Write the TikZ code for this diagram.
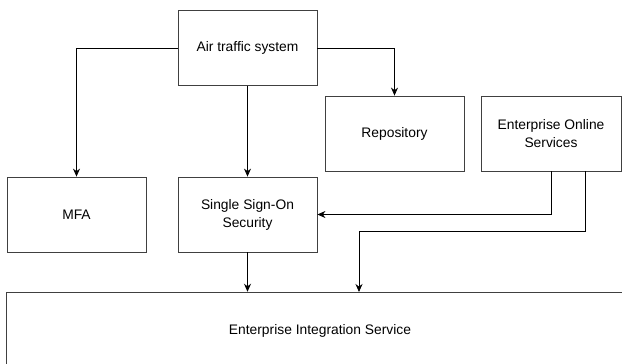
\documentclass[tikz,border=0pt]{standalone}
\usepackage{fontspec}
\setmainfont{Liberation Sans}
\usetikzlibrary{arrows.meta,
                positioning}

\begin{document}
\begin{tikzpicture}[x=0.03cm, y=-0.03cm, >={Stealth[length=2.4mm, width=2.1mm]}]

\clip (0,0) rectangle (622,363);
\useasboundingbox (0,0) rectangle (622,363);

\begin{scope}[ sys/.style = {rectangle, draw=black!75, line width=0.7pt, minimum width=4.17cm, minimum height=2.25cm, align=center, font=\fontsize{11.8}{15.4}\selectfont}]
    \node[sys] (ats) at (247.5, 48) {Air traffic system};
    \node[sys] (mfa) at (76.5, 214.5) {MFA};
    \node[sys] (sso) at (247.5, 214.5) {Single Sign-On\\Security};
    \node[sys] (repo) at (394.5, 133.5) {Repository};
    \node[sys, minimum width=4.2cm] (eos) at (551, 133.5) {Enterprise Online\\Services};
    \node[sys, minimum width=18.8cm, minimum height=2.3cm] (eis) at (320, 330.5) {Enterprise Integration Service};
\end{scope}

\coordinate (eosout) at (585, 171);
\coordinate (eisin) at (359, 292);

\begin{scope}[line width=0.7pt]
    \draw[->] (ats.west) -| (mfa.north);
    \draw[->] (ats) -- (sso);
    \draw[->] (ats.east) -| (repo.north);
    \draw[->] (eos.south) |- (sso.east);
    \draw[->] (eosout) -- ++(0,60) -| (eisin);
    \draw[->] (sso.south) -- (sso.south |- eis.north);
\end{scope}

\end{tikzpicture}
\end{document}
